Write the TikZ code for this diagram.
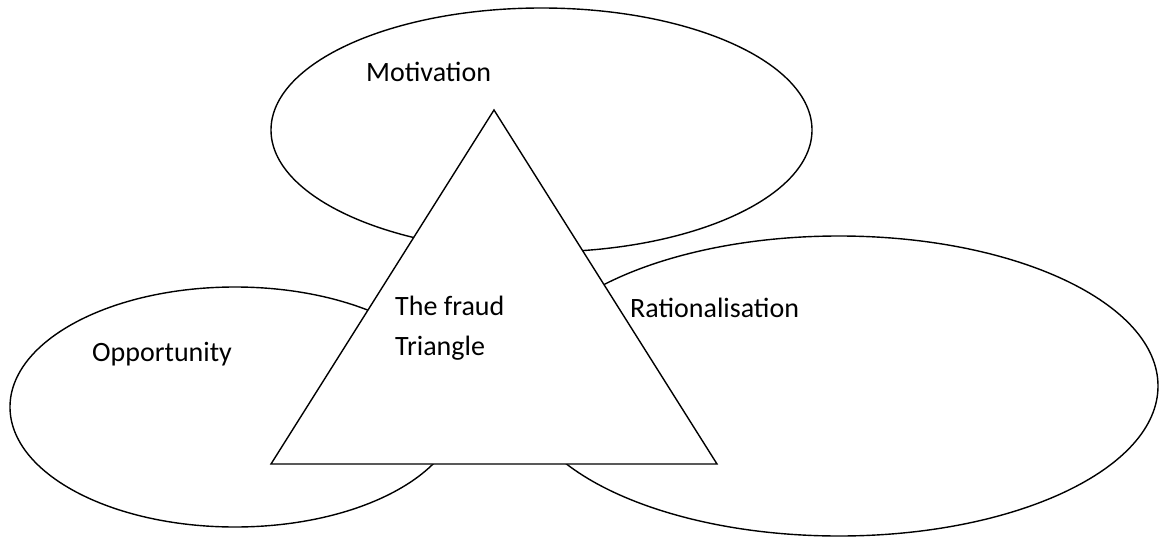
\documentclass[tikz,border=0pt]{standalone}
\usepackage{fontspec}
\setmainfont{Carlito}
\begin{document}
\begin{tikzpicture}[x=1pt,y=-1pt,
  outline/.style={draw=black,line width=1.4pt},
  lbl/.style={anchor=base west,inner sep=0pt,font=\fontsize{28}{40}\selectfont}]
\useasboundingbox[fill=white] (0,0) rectangle (1159,538);
\draw[outline] (541.5,130) ellipse [x radius=270.5, y radius=122];
\draw[outline] (839,386) ellipse [x radius=319, y radius=150];
\draw[outline] (235,407) ellipse [x radius=225, y radius=120];
\draw[outline,fill=white,line join=miter] (494,110) -- (717,464) -- (271,464) -- cycle;
\node[lbl] (mot) at (366,81) {Motivation};
\node[lbl] (rat) at (630,317) {Rationalisation};
\node[lbl] (opp) at (92,361) {Opportunity};
\node[lbl] (tf) at (395,315) {The fraud};
\node[lbl] (tri) at (395,355) {Triangle};
\end{tikzpicture}
\end{document}
